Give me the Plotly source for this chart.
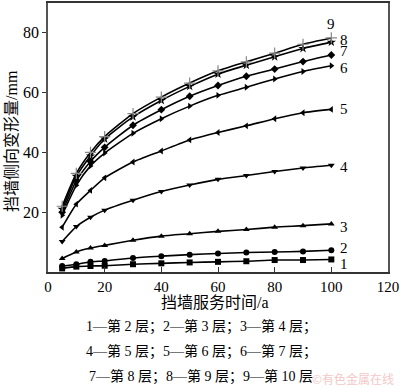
import plotly.graph_objects as go

years = [5, 10, 15, 20, 30, 40, 50, 60, 70, 80, 90, 100]

s1 = [1.2, 1.8, 2.0, 2.1, 2.6, 2.9, 3.2, 3.4, 3.6, 4.0, 4.0, 4.2]
s2 = [2.0, 2.6, 3.4, 3.7, 4.7, 5.3, 5.8, 6.2, 6.5, 6.7, 6.9, 7.3]
s3 = [4.5, 6.7, 8.0, 8.9, 10.6, 12.0, 12.8, 13.6, 14.2, 15.0, 15.5, 16.1]
s4 = [10.2, 15.2, 18.3, 20.7, 24.0, 26.9, 29.1, 31.0, 32.3, 33.6, 34.8, 35.7]
s5 = [15.0, 22.7, 27.3, 31.5, 36.8, 40.5, 44.2, 46.7, 48.9, 51.3, 53.3, 54.4]
s6 = [19.0, 29.0, 35.5, 39.8, 46.4, 51.3, 55.5, 59.1, 61.8, 64.6, 67.1, 69.0]
s7 = [20.0, 30.5, 37.0, 41.7, 49.1, 54.3, 58.8, 62.4, 65.5, 67.9, 70.4, 72.6]
s8 = [21.0, 32.0, 38.8, 44.5, 51.9, 57.4, 62.1, 66.2, 69.2, 72.0, 74.8, 76.9]
s9 = [22.0, 33.0, 40.0, 45.3, 53.0, 58.5, 63.2, 67.3, 70.3, 73.2, 76.2, 78.3]

series_labels = ["1", "2", "3", "4", "5", "6", "7", "8", "9"]
series_values = [s1, s2, s3, s4, s5, s6, s7, s8, s9]

x_ticks = [0, 20, 40, 60, 80, 100, 120]
y_ticks = [20, 40, 60, 80]

x_title = "挡墙服务时间/a"
y_title = "挡墙侧向变形量/mm"
caption = [
    "1—第 2 层；2—第 3 层；3—第 4 层；",
    "4—第 5 层；5—第 6 层；6—第 7 层；",
    "7—第 8 层；8—第 9 层；9—第 10 层",
]

symbols = ["square", "circle", "triangle-up", "triangle-down", "triangle-left",
           "triangle-right", "diamond", "star", "cross-thin"]
sizes = [6, 6, 6, 6, 6, 6, 6, 7, 8]

FONT = "Liberation Serif, Noto Sans CJK SC"

fig = go.Figure()
for i, (lab, vals) in enumerate(zip(series_labels, series_values)):
    mk = dict(symbol=symbols[i], size=sizes[i], color="black")
    if symbols[i] == "cross-thin":
        mk = dict(symbol="cross-thin", size=8, color="#888888",
                  line=dict(color="#888888", width=1.2))
    fig.add_trace(go.Scatter(
        x=years, y=vals, mode="lines+markers", name=lab,
        line=dict(color="black", width=1.6, shape="spline", smoothing=0.6),
        marker=mk, showlegend=False, hoverinfo="skip"))

# end labels
label_offsets = {"9": (0, 4.6, "center"), "8": (2.3, 0.8, "left"), "7": (2.3, 1.4, "left"),
                 "6": (2.3, -0.8, "left"), "5": (2.3, 0.0, "left"), "4": (2.3, -0.6, "left"),
                 "3": (2.3, -1.0, "left"), "2": (2.3, 0.8, "left"), "1": (2.3, -1.5, "left")}
for lab, vals in zip(series_labels, series_values):
    dx, dy, anc = label_offsets[lab]
    fig.add_annotation(x=years[-1] + dx, y=vals[-1] + dy, text=lab, showarrow=False,
                       xanchor=anc, yanchor="middle",
                       font=dict(family=FONT, size=15, color="black"))

# axis titles
fig.add_annotation(xref="paper", yref="paper", x=(215 - 48) / 340, y=(272 - 303) / 271,
                   text=x_title, showarrow=False, xanchor="center", yanchor="middle",
                   font=dict(family=FONT, size=16, color="black"))
fig.add_annotation(xref="paper", yref="paper", x=(12 - 48) / 340, y=(272 - 140) / 271,
                   text=y_title, textangle=-90, showarrow=False,
                   xanchor="center", yanchor="middle",
                   font=dict(family=FONT, size=16, color="black"))

# caption
for j, (line, py) in enumerate(zip(caption, [327, 352, 377])):
    fig.add_annotation(xref="paper", yref="paper", x=(201 - 48) / 340, y=(272 - py) / 271,
                       text=line, showarrow=False, xanchor="center", yanchor="middle",
                       font=dict(family=FONT, size=14, color="black"))

# watermark
fig.add_annotation(xref="paper", yref="paper", x=(396 - 48) / 340, y=(272 - 379) / 271,
                   text="©有色金属在线", showarrow=False, xanchor="right", yanchor="middle",
                   font=dict(family="Noto Sans CJK SC", size=12, color="#f2c9c9"))

fig.update_xaxes(range=[0, 120], tickvals=x_ticks, ticks="inside", ticklen=5,
                 tickcolor="#333", showline=True, linecolor="#333", linewidth=1.5,
                 mirror=True, showgrid=False, zeroline=False,
                 tickfont=dict(family=FONT, size=15, color="black"))
fig.update_yaxes(range=[0, 90], tickvals=y_ticks, ticks="outside", ticklen=4,
                 tickcolor="#333", showline=True, linecolor="#555", linewidth=1.5,
                 mirror=True, showgrid=False, zeroline=False,
                 tickfont=dict(family=FONT, size=16, color="black"))

fig.update_layout(width=400, height=389, margin=dict(l=48, r=12, t=1, b=117),
                  paper_bgcolor="white", plot_bgcolor="white")

fig.write_html("out.html", config={"displayModeBar": False},
               post_script="document.body.style.margin='0';document.body.style.padding='0';")
